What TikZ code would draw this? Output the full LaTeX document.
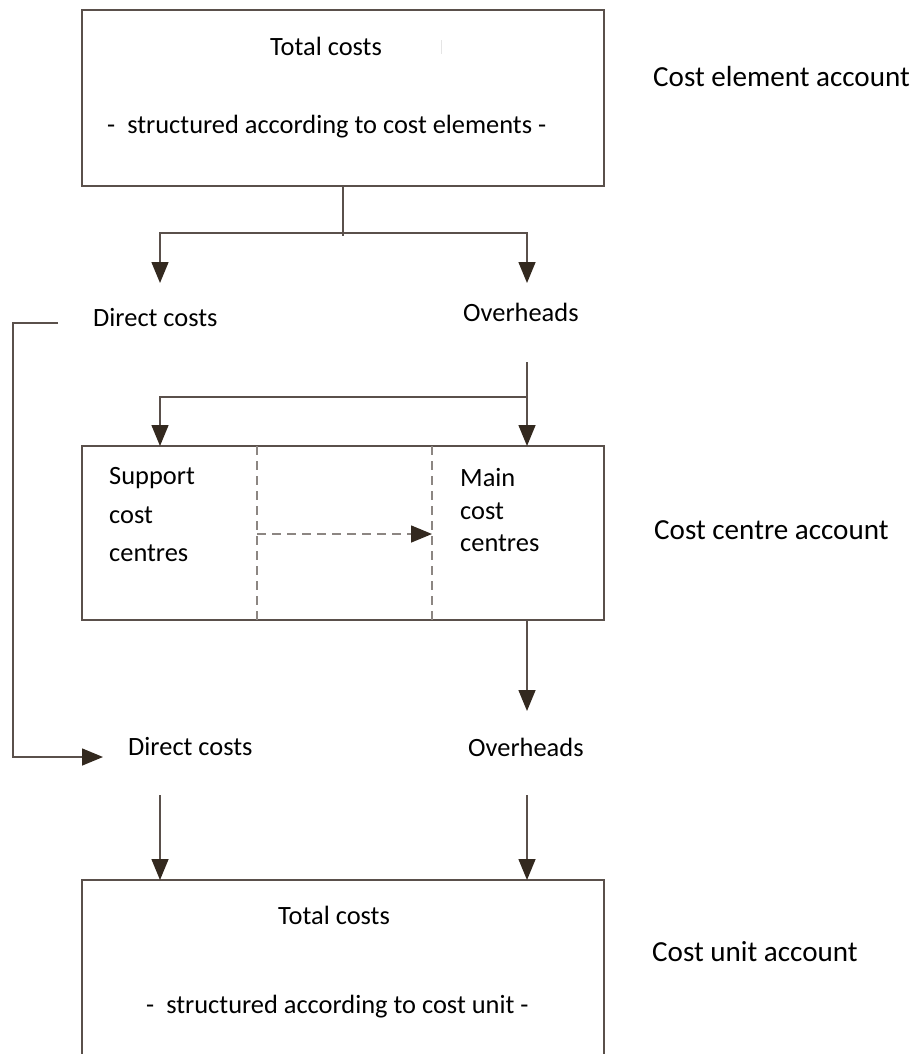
\documentclass[tikz,border=0pt]{standalone}
\usepackage{fontspec}
\setmainfont{Carlito}
\usetikzlibrary{arrows.meta}
\definecolor{lin}{HTML}{5A504B}
\definecolor{tipc}{HTML}{33291F}
\definecolor{dsh}{HTML}{8C8682}
\begin{document}
\begin{tikzpicture}[x=1pt,y=-1pt,
  every node/.style={font=\fontsize{26.4}{31}\selectfont, inner sep=0pt, text=black},
  lbl/.style={anchor=west},
  side/.style={anchor=west, font=\fontsize{29.1}{34}\selectfont},
  box/.style={draw=lin, line width=1.6pt, minimum width=522pt},
  conn/.style={draw=lin, line width=1.5pt},
  arr/.style={conn, -{Triangle[length=21pt,width=17pt,color=tipc]}},
  divider/.style={draw=dsh, line width=1.5pt, dash pattern=on 9pt off 6pt},
  darr/.style={divider, -{Triangle[length=21pt,width=17pt,color=tipc]}}]
\useasboundingbox (0,0) rectangle (918,1054);

% boxes
\node[box, minimum height=176pt] (top) at (343,98) {};
\node[box, minimum height=174pt] (mid) at (343,533) {};
\coordinate (botTL) at (82,880);
\coordinate (botTR) at (604,880);
\coordinate (botBL) at (82,1056);
\coordinate (botBR) at (604,1056);
\draw[conn, line width=1.6pt] (botBL) -- (botTL) -- (botTR) -- (botBR);

% texts in boxes
\node[lbl] (t1) at (270,46) {Total costs};
\node[lbl] (s1) at (107,127) {-\hspace{12pt}structured according to cost elements -};
\node[lbl] (t3) at (278,915) {Total costs};
\node[lbl] (s3) at (146,1007) {-\hspace{12pt}structured according to cost unit -};
\coordinate (tickA) at (441,40);
\coordinate (tickB) at (441,54);
\draw[gray!20, line width=1pt] (tickA) -- (tickB);

% side labels
\node[side] (cea) at (653,77) {Cost element account};
\node[side] (cca) at (654,530) {Cost centre account};
\node[side] (cua) at (652,952) {Cost unit account};

% middle labels
\node[lbl] (dc1) at (93,318) {Direct costs};
\node[lbl] (ov1) at (463,312) {Overheads};
\node[lbl] (sup1) at (109,478) {Support};
\node[lbl] (sup2) at (109,515) {cost};
\node[lbl] (sup3) at (109,553) {centres};
\node[lbl] (main1) at (460,478) {Main};
\node[lbl] (main2) at (460,511) {cost};
\node[lbl] (main3) at (460,543) {centres};
\node[lbl] (dc2) at (128,747) {Direct costs};
\node[lbl] (ov2) at (468,747) {Overheads};

% top split
\coordinate (j1) at (343,233);
\coordinate (j1e) at (343,236);
\coordinate (tipL1) at (160,283);
\coordinate (tipR1) at (527,283);
\draw[conn] (top.south -| j1) -- (j1e);
\draw[arr] (j1) -| (tipL1);
\draw[arr] (j1) -| (tipR1);

% direct costs bypass
\coordinate (b1) at (58,323);
\coordinate (b2) at (13,323);
\coordinate (b3) at (13,757);
\coordinate (b4) at (103,757);
\draw[arr] (b1) -- (b2) -- (b3) -- (b4);

% overheads into cost centres
\coordinate (o1) at (527,362);
\coordinate (o2) at (527,397);
\coordinate (mTR) at (527,446);
\coordinate (mTL) at (160,446);
\draw[arr] (o1) -- (mTR);
\draw[arr] (o2) -| (mTL);

% dashed dividers
\coordinate (d1t) at (257,446);
\coordinate (d1b) at (257,620);
\coordinate (d2t) at (432,446);
\coordinate (d2b) at (432,620);
\draw[divider] (d1t) -- (d1b);
\draw[divider] (d2t) -- (d2b);
\coordinate (da1) at (257,534);
\coordinate (da2) at (432,534);
\draw[darr] (da1) -- (da2);

% cost centres to overheads
\coordinate (mB) at (527,620);
\coordinate (ovTip) at (527,711);
\draw[arr] (mB) -- (ovTip);

% into cost unit account
\coordinate (dcS) at (160,795);
\coordinate (ovS) at (527,795);
\draw[arr] (dcS) -- (dcS |- botTL);
\draw[arr] (ovS) -- (ovS |- botTL);
\end{tikzpicture}
\end{document}
